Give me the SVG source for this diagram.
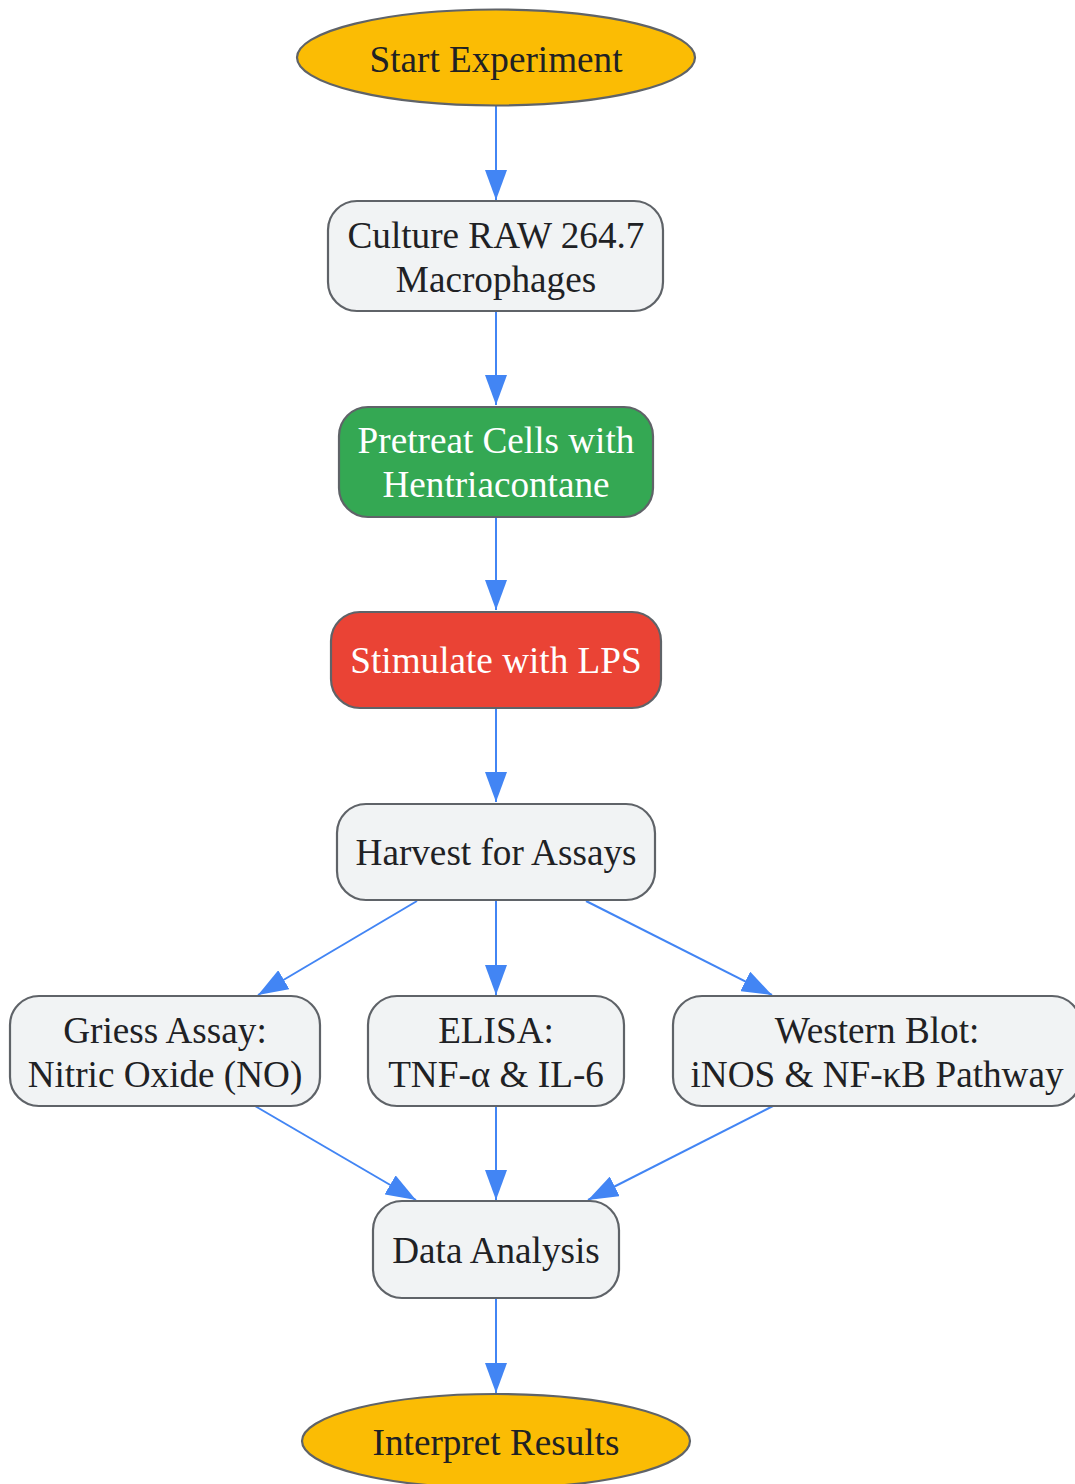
<svg xmlns="http://www.w3.org/2000/svg" width="1075" height="1484" viewBox="0 0 1075 1484">
<style>
.n{stroke:#5f6368;stroke-width:2.2}
.g{fill:#f1f3f4}
.y{fill:#fbbc04}
.gr{fill:#34a853}
.r{fill:#ea4335}
text{font-family:"Liberation Serif","Times New Roman",serif;font-size:37.2px;text-anchor:middle;fill:#202124}
.w{fill:#ffffff}
.e{stroke:#4285f4;stroke-width:2;fill:none;marker-end:url(#ah)}
</style>
<defs>
<marker id="ah" viewBox="0 0 30 22" refX="30" refY="11" markerWidth="30" markerHeight="22" markerUnits="userSpaceOnUse" orient="auto">
<path d="M0,0 L30,11 L0,22 z" fill="#4285f4"/>
</marker>
</defs>
<rect width="1075" height="1484" fill="#ffffff"/>
<g id="edges">
<line class="e" x1="496" y1="106" x2="496" y2="200"/>
<line class="e" x1="496" y1="311" x2="496" y2="405"/>
<line class="e" x1="496" y1="517" x2="496" y2="610"/>
<line class="e" x1="496" y1="708" x2="496" y2="802"/>
<line class="e" x1="417" y1="901" x2="258" y2="995"/>
<line class="e" x1="496" y1="901" x2="496" y2="995"/>
<line class="e" x1="586" y1="901" x2="772" y2="995"/>
<line class="e" x1="255" y1="1106" x2="416" y2="1200"/>
<line class="e" x1="496" y1="1106" x2="496" y2="1200"/>
<line class="e" x1="773" y1="1106" x2="588" y2="1200"/>
<line class="e" x1="496" y1="1298" x2="496" y2="1393"/>
</g>
<g id="start">
<ellipse class="n y" cx="496" cy="57.5" rx="199" ry="48"/>
<text x="496" y="71.5">Start Experiment</text>
</g>
<g id="culture">
<rect class="n g" x="328" y="201" width="335" height="110" rx="29"/>
<text x="496" y="248">Culture RAW 264.7</text>
<text x="496" y="291.5">Macrophages</text>
</g>
<g id="pretreat">
<rect class="n gr" x="339" y="407" width="314" height="110" rx="29"/>
<text class="w" x="496" y="453">Pretreat Cells with</text>
<text class="w" x="496" y="497">Hentriacontane</text>
</g>
<g id="stimulate">
<rect class="n r" x="331" y="612" width="330" height="96" rx="29"/>
<text class="w" x="496" y="673">Stimulate with LPS</text>
</g>
<g id="harvest">
<rect class="n g" x="337" y="804" width="318" height="96" rx="29"/>
<text x="496" y="865">Harvest for Assays</text>
</g>
<g id="griess">
<rect class="n g" x="10" y="996" width="310" height="110" rx="29"/>
<text x="165" y="1043">Griess Assay:</text>
<text x="165" y="1087">Nitric Oxide (NO)</text>
</g>
<g id="elisa">
<rect class="n g" x="368" y="996" width="256" height="110" rx="29"/>
<text x="496" y="1043">ELISA:</text>
<text x="496" y="1087">TNF-α &amp; IL-6</text>
</g>
<g id="western">
<rect class="n g" x="673" y="996" width="408" height="110" rx="29"/>
<text x="877" y="1043">Western Blot:</text>
<text x="877" y="1087">iNOS &amp; NF-κB Pathway</text>
</g>
<g id="data">
<rect class="n g" x="373" y="1201" width="246" height="97" rx="29"/>
<text x="496" y="1263">Data Analysis</text>
</g>
<g id="interpret">
<ellipse class="n y" cx="496" cy="1441" rx="194" ry="47"/>
<text x="496" y="1455">Interpret Results</text>
</g>
</svg>
